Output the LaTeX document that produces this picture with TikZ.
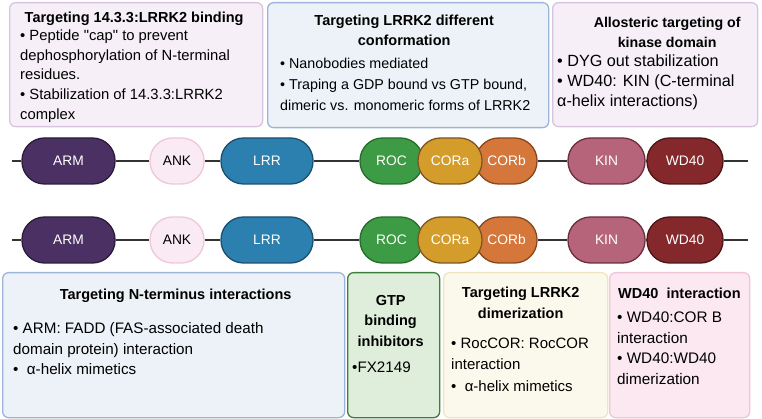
\documentclass[tikz,border=0pt]{standalone}
\usepackage{fontspec}
\setmainfont{Liberation Sans}[Ligatures=TeXOff]
\usetikzlibrary{positioning}
% panel colours
\definecolor{lavfill}{HTML}{F6EFF8}
\definecolor{lavline}{HTML}{D9C4E0}
\definecolor{bluefill}{HTML}{EDF2F8}
\definecolor{blueline}{HTML}{9BB4D9}
\definecolor{greenfill}{HTML}{DFEEDB}
\definecolor{greenline}{HTML}{3E7E3C}
\definecolor{creamfill}{HTML}{FBF9EC}
\definecolor{creamline}{HTML}{F0E5C2}
\definecolor{pinkfill}{HTML}{FBE8F1}
\definecolor{pinkline}{HTML}{F0C5D9}
% domain colours
\definecolor{arm}{HTML}{4B3163}
\definecolor{armline}{HTML}{2A1C3A}
\definecolor{ank}{HTML}{F9EAF3}
\definecolor{ankline}{HTML}{EFC6DB}
\definecolor{lrr}{HTML}{2B80B0}
\definecolor{lrrline}{HTML}{1C4F6D}
\definecolor{roc}{HTML}{3E9B45}
\definecolor{rocline}{HTML}{256D2B}
\definecolor{cora}{HTML}{D49D2B}
\definecolor{coraline}{HTML}{7E5520}
\definecolor{corb}{HTML}{D5763A}
\definecolor{corbline}{HTML}{84481F}
\definecolor{kin}{HTML}{B56479}
\definecolor{kinline}{HTML}{6B2D3F}
\definecolor{wd}{HTML}{84282B}
\definecolor{wdline}{HTML}{4A1618}
\begin{document}
\begin{tikzpicture}[x=1pt, y=-1pt,
  panel/.style={draw=#1line, fill=#1fill, line width=1.3pt, rounded corners=6pt, anchor=north west, inner sep=0pt},
  head/.style={font=\fontsize{#1}{20.5}\selectfont\bfseries, align=center, anchor=north, inner sep=0pt},
  head/.default=14.5,
  body/.style={font=\fontsize{#1}{20.5}\selectfont, align=left, inner sep=0pt},
  body/.default=15.2,
  domain/.style={rectangle, rounded corners=22.5pt, draw=#1line, fill=#1, line width=1.3pt, minimum height=46pt, inner sep=0pt, text=white, font=\fontsize{13.8}{13.8}\selectfont},
  chain/.style={draw=black!80, line width=1.4pt}]
\useasboundingbox (0,0) rectangle (762,419);

% top panels
\node[panel=lav, minimum width=253pt, minimum height=124pt] (tl) at (9,2) {};
\node[head, below=10pt of tl.north, xshift=-2pt] (tlh) {Targeting 14.3.3:LRRK2 binding};
\node[body, font=\fontsize{14.8}{19.7}\selectfont, below right=27.5pt and 11pt of tl.north west] (tlb) {• Peptide "cap" to prevent\\dephosphorylation of N-terminal\\residues.\\• Stabilization of 14.3.3:LRRK2\\complex};

\node[panel=blue, minimum width=281pt, minimum height=125pt] (tm) at (267,2) {};
\node[head, font=\fontsize{14.5}{19.5}\selectfont\bfseries, below=13pt of tm.north, xshift=-4pt] (tmh) {Targeting LRRK2 different\\conformation};
\node[body, font=\fontsize{14.3}{21}\selectfont, below right=56pt and 13pt of tm.north west] (tmb) {• Nanobodies mediated\\• Traping a GDP bound vs GTP bound,\\ dimeric vs. monomeric forms of LRRK2};

\node[panel=lav, minimum width=205pt, minimum height=124pt] (tr) at (552,2) {};
\node[head, font=\fontsize{14.2}{19.5}\selectfont\bfseries, below=15.5pt of tr.north, xshift=12pt] (trh) {Allosteric targeting of\\kinase domain};
\node[body, font=\fontsize{16.2}{20}\selectfont, below right=52.5pt and 5pt of tr.north west] (trb) {• DYG out stabilization\\• WD40: KIN (C-terminal\\α-helix interactions)};

% LRRK2 domains, twice
\foreach \r/\y in {1/161,2/240}{
  \coordinate (s\r) at (12,\y);
  \coordinate (e\r) at (748,\y);
  \node[domain=arm, minimum width=93pt] (arm\r) at (68.5,\y) {ARM};
  \node[domain=ank, minimum width=54pt, text=black] (ank\r) at (177,\y) {ANK};
  \node[domain=lrr, minimum width=92pt] (lrr\r) at (267,\y) {LRR};
  \node[domain=roc, minimum width=63pt] (roc\r) at (391.5,\y) {ROC};
  \node[domain=corb, minimum width=61pt] (corb\r) at (506.5,\y) {CORb};
  \node[domain=cora, minimum width=64pt] (cora\r) at (450,\y) {CORa};
  \node[domain=kin, minimum width=77pt] (kin\r) at (606.5,\y) {KIN};
  \node[domain=wd, minimum width=76pt] (wd\r) at (685,\y) {WD40};
  \draw[chain] (s\r) -- (arm\r) (arm\r) -- (ank\r) (ank\r) -- (lrr\r) (lrr\r) -- (roc\r)
    (corb\r) -- (kin\r) (kin\r) -- (wd\r) (wd\r) -- (e\r);
}

% bottom panels
\node[panel=blue, minimum width=342pt, minimum height=145pt] (bl) at (2,272) {};
\node[head, below=17pt of bl.north, xshift=2pt] (blh) {Targeting N-terminus interactions};
\node[body, below right=50.5pt and 11pt of bl.north west] (blb) {• ARM: FADD (FAS-associated death\\domain protein) interaction\\•\ \ α-helix mimetics};

\node[panel=green, minimum width=92pt, minimum height=145pt] (bg) at (347,272) {};
\node[head, below=23pt of bg.north, xshift=-3pt] (bgh) {GTP\\binding\\inhibitors};
\node[body, below right=89.5pt and 5pt of bg.north west] (bgb) {•FX2149};

\node[panel=cream, minimum width=164pt, minimum height=145pt] (bc) at (443,272) {};
\node[head, below=15pt of bc.north, xshift=-5pt] (bch) {Targeting LRRK2\\dimerization};
\node[body, font=\fontsize{15}{21.5}\selectfont, below right=65.5pt and 8pt of bc.north west] (bcb) {• RocCOR: RocCOR\\interaction\\•\ \ α-helix mimetics};

\node[panel=pink, minimum width=140pt, minimum height=145pt] (bp) at (609,272) {};
\node[head, anchor=north west, below right=16pt and 9pt of bp.north west] (bph) {WD40\ \ interaction};
\node[body, font=\fontsize{15.3}{20.8}\selectfont, below right=39.5pt and 8pt of bp.north west] (bpb) {• WD40:COR B\\interaction\\• WD40:WD40\\dimerization};
\end{tikzpicture}
\end{document}
